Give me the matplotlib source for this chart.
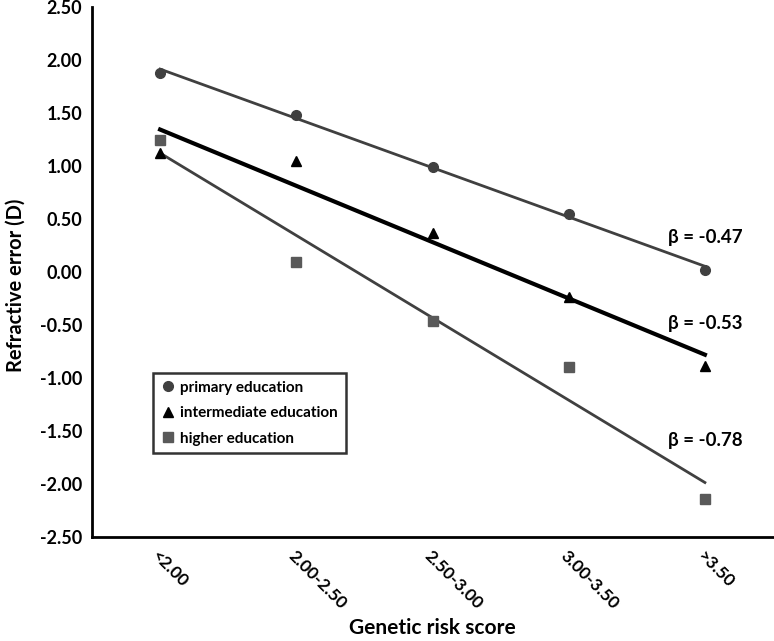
import numpy as np
import matplotlib
matplotlib.use("Agg")
import matplotlib.pyplot as plt

plt.rcParams['font.family'] = ['Lato', 'DejaVu Sans']

categories = ["<2.00", "2.00-2.50", "2.50-3.00", "3.00-3.50", ">3.50"]
primary = [1.88, 1.48, 0.99, 0.55, 0.02]
intermediate = [1.12, 1.05, 0.37, -0.24, -0.89]
higher = [1.25, 0.09, -0.46, -0.90, -2.14]
betas = ["β = -0.47", "β = -0.53", "β = -0.78"]
beta_y = [0.33, -0.49, -1.59]
yticks = [2.5, 2.0, 1.5, 1.0, 0.5, 0.0, -0.5, -1.0, -1.5, -2.0, -2.5]

fig = plt.figure(figsize=(7.74, 6.41), dpi=100)
ax = fig.add_axes([92/774, 1-537/641, 681/774, 530/641])

x = np.arange(len(categories))
series = [
    (primary, 'o', '#404040', '#404040', 2.0, 7, "primary education"),
    (intermediate, '^', '#000000', '#000000', 3.0, 7, "intermediate education"),
    (higher, 's', '#595959', '#404040', 2.0, 7, "higher education"),
]
for vals, mk, mc, lc, lw, ms, lab in series:
    coef = np.polyfit(x, vals, 1)
    ax.plot(x, np.polyval(coef, x), color=lc, lw=lw, zorder=2)
    ax.plot(x, vals, linestyle='none', marker=mk, color=mc, markersize=ms,
            label=lab, zorder=3)

for t, yy in zip(betas, beta_y):
    ax.text(4.0, yy, t, ha='center', va='center', fontsize=13.5, fontweight='bold')

ax.set_xlim(-0.5, 4.5)
ax.set_ylim(-2.5, 2.5)
ax.set_yticks(yticks)
ax.set_yticklabels([f"{v:.2f}" for v in yticks], fontsize=13, fontweight='bold')
ax.set_xticks(x)
ax.set_xticklabels(categories, rotation=-45, ha='left', va='top',
                   rotation_mode='anchor', fontsize=12.5, fontweight='bold')
ax.tick_params(axis='both', length=0)
ax.tick_params(axis='x', pad=8)
ax.tick_params(axis='y', pad=7)

for s in ['top', 'right']:
    ax.spines[s].set_visible(False)
for s in ['left', 'bottom']:
    ax.spines[s].set_linewidth(2)
    ax.spines[s].set_color('black')

ax.set_ylabel("Refractive error (D)", fontsize=14.5, fontweight='bold')
fig.text(432/774, 1-628/641, "Genetic risk score", ha='center', va='center',
         fontsize=15, fontweight='bold')
ax.yaxis.set_label_coords(-0.097, 0.475)

leg = ax.legend(loc='upper left', bbox_to_anchor=((153-92)/681, (537-373)/530),
                borderaxespad=0,
                frameon=True, fancybox=False, prop={'weight': 'bold', 'size': 11},
                handletextpad=0.4, borderpad=0.5, labelspacing=0.75, handlelength=0.9)
leg.get_frame().set_edgecolor('black')
leg.get_frame().set_linewidth(1.8)

fig.savefig("out.png", dpi=100)
